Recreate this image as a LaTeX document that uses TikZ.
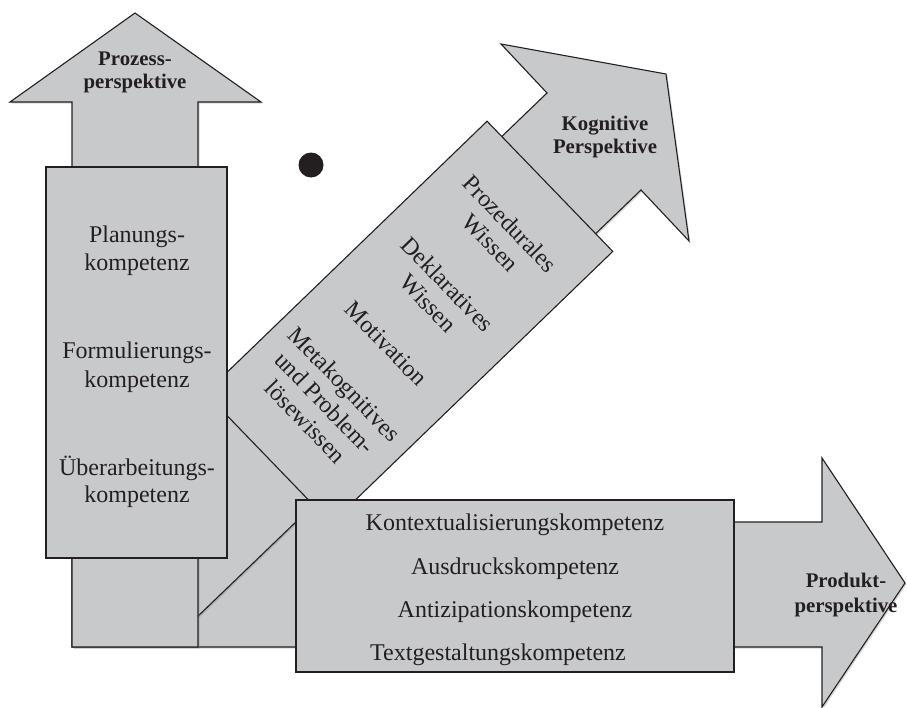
\documentclass[tikz,border=0pt]{standalone}
\usepackage{fontspec}
\setmainfont{Liberation Serif}
\usetikzlibrary{shadows}
\definecolor{panel}{RGB}{200,201,203}
\definecolor{ink}{RGB}{35,31,32}
\begin{document}
\begin{tikzpicture}[x=1pt,y=-1pt,
  panelfill/.style={fill=panel, draw=ink, line width=1.1pt, line join=miter},
  arrowbody/.style={panelfill, drop shadow={opacity=0.3, shadow xshift=1.5pt, shadow yshift=-1.5pt}},
  panelbox/.style={rectangle, fill=panel, draw=ink, line width=1.1pt, inner sep=0pt},
  reg/.style={font=\fontsize{24}{28}\selectfont, text=ink, inner sep=0pt, anchor=base},
  rot/.style={font=\fontsize{24}{27}\selectfont, text=ink, inner sep=0pt, align=center, rotate=-46},
  lab/.style={font=\fontsize{20.8}{23}\selectfont\bfseries, text=ink, inner sep=0pt, anchor=base}]
\useasboundingbox (0,0) rectangle (907,707);

% horizontal arrow (Produktperspektive)
\path[arrowbody] (72,522) -- (822,522) -- (822,458) -- (905,583) -- (822,707)
  -- (822,647) -- (72,647) -- cycle;

% diagonal arrow (Kognitive Perspektive)
\path[arrowbody] (189.8,624.0) -- (641,190) -- (689,241) -- (666,74) -- (501,44)
  -- (547,93) -- (96.0,526.9) -- cycle;

% vertical arrow (Prozessperspektive)
\path[arrowbody] (72,647) -- (72,102) -- (10,102) -- (135,13) -- (261,102)
  -- (198,102) -- (198,647) -- cycle;

% boxes
\node[panelbox, rotate=44, minimum width=391.5pt, minimum height=181pt] (kbox) at (409.1,322.3) {};
\node[panelbox, minimum width=181pt, minimum height=391pt] (pbox) at (136.5,362.5) {};
\node[panelbox, minimum width=438pt, minimum height=172pt] (hbox) at (515,586) {};

% dot
\node[circle, fill=ink, inner sep=0pt, minimum size=25pt] (dot) at (311,165) {};

% arrow labels
\node[lab] (l1a) at (135,65) {Prozess-};
\node[lab] (l1b) at (135,88) {perspektive};
\node[lab] (l2a) at (605,130) {Kognitive};
\node[lab] (l2b) at (605,153) {Perspektive};
\node[lab] (l3a) at (846,587) {Produkt-};
\node[lab] (l3b) at (846,612) {perspektive};

% left box texts
\node[reg] (p1a) at (137,242) {Planungs-};
\node[reg] (p1b) at (137,270) {kompetenz};
\node[reg] (p2a) at (137,358) {Formulierungs-};
\node[reg] (p2b) at (137,387) {kompetenz};
\node[reg] (p3a) at (137,475) {Überarbeitungs-};
\node[reg] (p3b) at (137,502) {kompetenz};

% horizontal box texts
\node[reg] (h1) at (515,530) {Kontextualisierungskompetenz};
\node[reg] (h2) at (515,574) {Ausdruckskompetenz};
\node[reg] (h3) at (515,617) {Antizipationskompetenz};
\node[reg] (h4) at (498,660) {Textgestaltungskompetenz};

% rotated box texts
\node[rot] (k1) at (500.5,233.2) {Prozedurales\\Wissen};
\node[rot] (k2) at (438.0,293.7) {Deklaratives\\Wissen};
\node[rot] (k3) at (386.2,343.7) {Motivation};
\node[rot] (k4) at (325.1,402.8) {Metakognitives\\und Problem-\\lösewissen};
\end{tikzpicture}
\end{document}
